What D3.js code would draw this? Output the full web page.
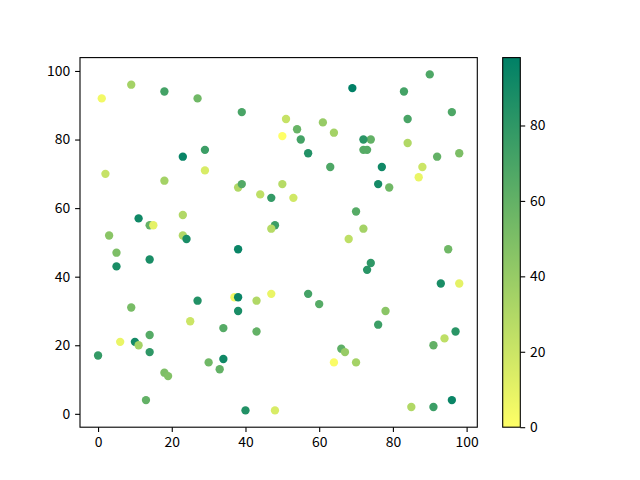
<!DOCTYPE html>
<html>
<head>
<meta charset="utf-8">
<script src="https://cdn.jsdelivr.net/npm/d3@7"></script>
<style>
  body { margin: 0; background: #fff; }
  svg { display: block; }
  .tick text { font-family: "Noto Sans CJK SC", "Noto Sans", sans-serif; font-size: 13.9px; fill: #000; }
</style>
</head>
<body>
<svg width="640" height="480"></svg>
<script>
// координаты точек и значение цвета
const xs = [1, 9, 18, 27, 39, 29, 23, 29, 2, 18, 38, 39, 44, 47, 11, 14, 15, 23, 3, 23,
            24, 48, 47, 90, 69, 83, 96, 84, 51, 61, 54, 64, 50, 55, 74, 72, 72, 73, 84, 98,
            92, 57, 63, 77, 88, 87, 76, 79, 50, 53, 70, 72, 68, 5, 5, 14, 38, 37, 38, 38,
            43, 47, 27, 25, 9, 34, 43, 14, 6, 10, 11, 0, 14, 30, 34, 33, 18, 19, 13, 40,
            95, 74, 73, 93, 98, 57, 60, 78, 76, 97, 94, 91, 66, 67, 64, 70, 48, 85, 91, 96];
const ys = [92, 96, 94, 92, 88, 77, 75, 71, 70, 68, 66, 67, 64, 63, 57, 55, 55, 58, 52, 52,
            51, 55, 54, 99, 95, 94, 88, 86, 86, 85, 83, 82, 81, 80, 80, 80, 77, 77, 79, 76,
            75, 76, 72, 72, 72, 69, 67, 66, 67, 63, 59, 54, 51, 47, 43, 45, 48, 34, 34, 30,
            33, 35, 33, 27, 31, 25, 24, 23, 21, 21, 20, 17, 18, 15, 16, 13, 12, 11, 4, 1,
            48, 44, 42, 38, 38, 35, 32, 30, 26, 24, 22, 20, 19, 18, 15, 15, 1, 2, 2, 4];
const cs = [5, 35, 72, 55, 70, 75, 95, 15, 22, 35, 30, 66, 25, 78, 92, 60, 10, 30, 45, 30,
            88, 75, 28, 68, 98, 72, 68, 70, 22, 40, 58, 35, 0, 72, 60, 82, 65, 65, 30, 50,
            60, 85, 68, 92, 20, 8, 90, 55, 28, 18, 65, 35, 25, 50, 88, 88, 94, 5, 94, 88,
            30, 8, 85, 20, 52, 65, 60, 65, 8, 90, 35, 78, 80, 55, 92, 60, 50, 48, 60, 85,
            55, 80, 82, 88, 10, 72, 65, 45, 75, 82, 25, 60, 62, 40, 2, 35, 15, 30, 75, 94];
const cbTicks = [0, 20, 40, 60, 80];

const data = xs.map((x, i) => ({ x: x, y: ys[i], c: cs[i] }));

let svg = d3.select("svg");

// область графика
let area = { left: 80, top: 57.6, right: 477.3, bottom: 427.2 };
let cbar = { left: 502.7, right: 520.3 };

// отступы 5% как в matplotlib
function pad(ext) {
    const d = (ext[1] - ext[0]) * 0.05;
    return [ext[0] - d, ext[1] + d];
}

let scX = d3.scaleLinear().domain(pad(d3.extent(xs))).range([area.left, area.right]);
let scY = d3.scaleLinear().domain(pad(d3.extent(ys))).range([area.bottom, area.top]);
let cExt = d3.extent(cs);
let color = d3.scaleLinear().domain(cExt).range(["#ffff66", "#008066"]);

// точки
svg.append("g")
    .selectAll("circle")
    .data(data)
    .enter()
    .append("circle")
    .attr("cx", d => scX(d.x))
    .attr("cy", d => scY(d.y))
    .attr("r", 4.17)
    .style("fill", d => color(d.c));

// оси
function styleAxis(g) {
    g.select(".domain").remove();
    g.selectAll(".tick line").attr("stroke", "#000").attr("stroke-width", 1.1);
}

svg.append("g")
    .attr("transform", `translate(0, ${area.bottom})`)
    .call(d3.axisBottom(scX).ticks(5).tickSize(4.9).tickPadding(4.9))
    .call(styleAxis);

svg.append("g")
    .attr("transform", `translate(${area.left}, 0)`)
    .call(d3.axisLeft(scY).ticks(5).tickSize(4.9).tickPadding(4.9))
    .call(styleAxis);

// рамка
svg.append("rect")
    .attr("x", area.left).attr("y", area.top)
    .attr("width", area.right - area.left).attr("height", area.bottom - area.top)
    .style("fill", "none").style("stroke", "#000").style("stroke-width", 1.1);

// цветовая шкала
let defs = svg.append("defs");
let grad = defs.append("linearGradient")
    .attr("id", "cb").attr("x1", 0).attr("y1", 1).attr("x2", 0).attr("y2", 0);
grad.append("stop").attr("offset", 0).attr("stop-color", color(cExt[0]));
grad.append("stop").attr("offset", 1).attr("stop-color", color(cExt[1]));

let scC = d3.scaleLinear().domain(cExt).range([area.bottom, area.top]);

svg.append("rect")
    .attr("x", cbar.left).attr("y", area.top)
    .attr("width", cbar.right - cbar.left).attr("height", area.bottom - area.top)
    .style("fill", "url(#cb)");

svg.append("g")
    .attr("transform", `translate(${cbar.right}, 0)`)
    .call(d3.axisRight(scC).tickValues(cbTicks).tickSize(4.9).tickPadding(4.9))
    .call(styleAxis);

svg.append("rect")
    .attr("x", cbar.left).attr("y", area.top)
    .attr("width", cbar.right - cbar.left).attr("height", area.bottom - area.top)
    .style("fill", "none").style("stroke", "#000").style("stroke-width", 1.1);
</script>
</body>
</html>
